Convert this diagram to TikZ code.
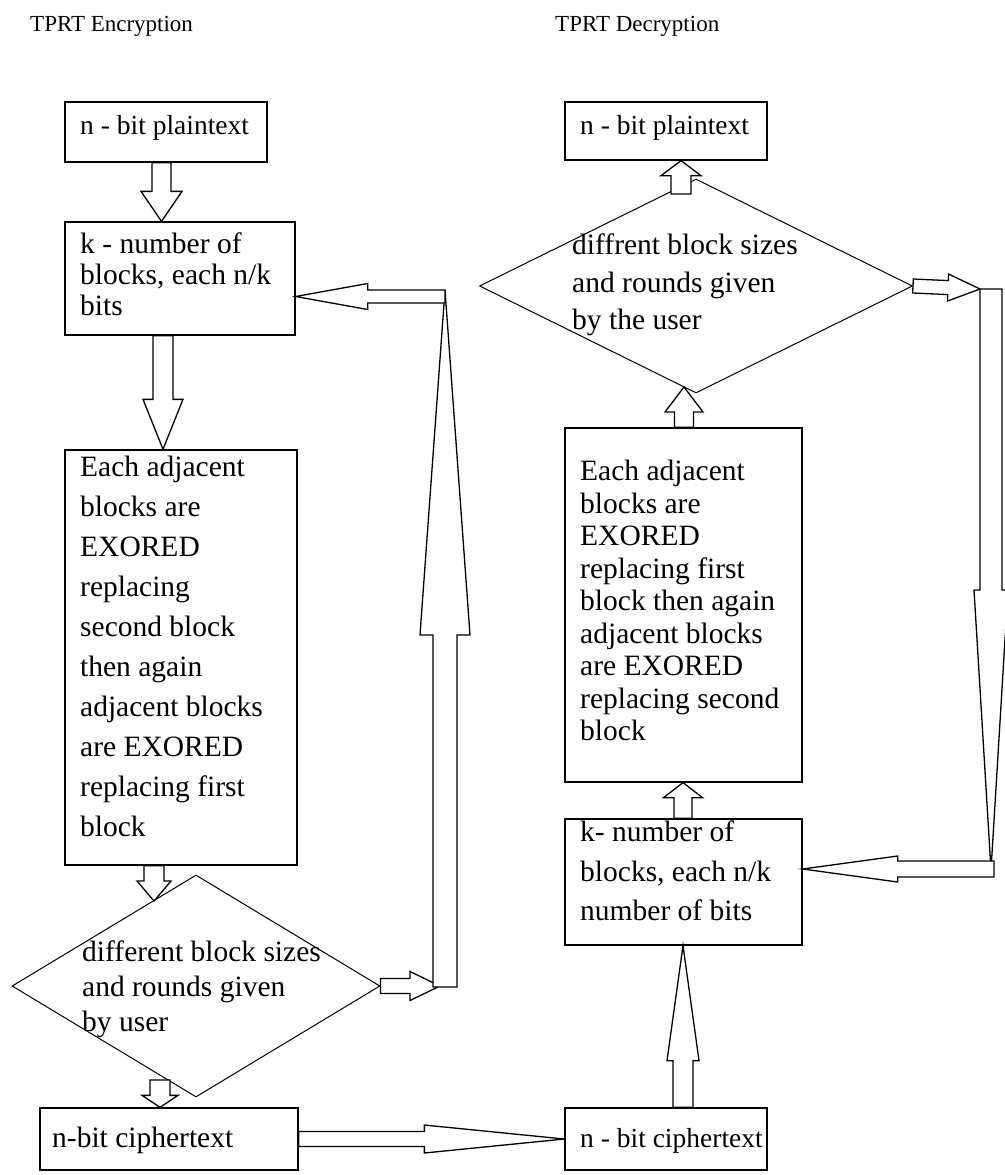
\documentclass[tikz,border=0pt]{standalone}
\usepackage{fontspec}
\setmainfont{Liberation Serif}
\usetikzlibrary{calc,shapes.geometric}

\tikzset{
  box/.style={draw, line width=1.3pt, rectangle, inner sep=0pt},
  dia/.style={draw, line width=1pt, diamond, inner sep=0pt},
  txt/.style={anchor=north west, inner sep=0pt, align=left,
    font=\fontsize{29.5}{#1}\selectfont},
  txt/.default=40,
  short/.style={anchor=north west, inner sep=0pt,
    font=\fontsize{27.5}{34}\selectfont},
  title/.style={anchor=west, inner sep=0pt, font=\fontsize{23}{28}\selectfont},
  blockarrow/.style={draw, fill=white, line width=1.3pt, line join=miter},
}

% hollow block arrow: #1 start, #2 tip, #3 half shaft width,
% #4 half head width, #5 head length
\newcommand\flowarrow[5]{%
  \coordinate (bah) at ($(#2)!#5!(#1)$);
  \draw[blockarrow] ($(#1)!#3!90:(#2)$) -- ($(bah)!#3!90:(#2)$)
    -- ($(bah)!#4!90:(#2)$) -- (#2) -- ($(bah)!#4!-90:(#2)$)
    -- ($(bah)!#3!-90:(#2)$) -- ($(#1)!#3!-90:(#2)$) -- cycle;}

\begin{document}
\begin{tikzpicture}[x=1pt,y=-1pt]
\useasboundingbox[fill=white] (0,0) rectangle (1004,1175);

% headings
\node[title] (t1) at (30,26) {TPRT Encryption};
\node[title] (t2) at (555,26) {TPRT Decryption};

% encryption column
\node[box, minimum width=202pt, minimum height=60pt]  (L1) at (166,132) {};
\node[box, minimum width=230pt, minimum height=113pt] (L2) at (180,278.5) {};
\node[box, minimum width=232pt, minimum height=415pt] (L3) at (181,657.5) {};
\node[dia, minimum width=368pt, minimum height=222pt] (DL) at (196,986) {};
\node[box, minimum width=258pt, minimum height=62pt]  (L4) at (169,1139) {};

% decryption column
\node[box, minimum width=202pt, minimum height=58pt]  (R1) at (666,131) {};
\node[dia, minimum width=433pt, minimum height=214pt] (DR) at (696,286) {};
\node[box, minimum width=237pt, minimum height=354pt] (R2) at (683.5,605) {};
\node[box, minimum width=237pt, minimum height=126pt] (R3) at (683.5,882) {};
\node[box, minimum width=202pt, minimum height=62pt]  (R4) at (666,1139) {};

% encryption arrows
\coordinate (a1s) at (L1.south -| 161.5,0);
\coordinate (a1t) at (L2.north -| 161.5,0);
\flowarrow{a1s}{a1t}{9.5pt}{20.5pt}{30pt}
\coordinate (a2s) at (L2.south -| 163,0);
\coordinate (a2t) at (L3.north -| 163,0);
\flowarrow{a2s}{a2t}{10pt}{20pt}{50pt}
\coordinate (a3s) at (L3.south -| 154,0);
\coordinate (a3t) at (154,901);
\flowarrow{a3s}{a3t}{10pt}{17pt}{20pt}
\coordinate (a4s) at (160,1080);
\coordinate (a4t) at (L4.north -| 160,0);
\flowarrow{a4s}{a4t}{10pt}{18pt}{12pt}
\coordinate (a5t) at (440,986);
\flowarrow{DL.east}{a5t}{7.5pt}{14.5pt}{30pt}
\coordinate (cl) at (445,987);
\coordinate (clt) at (445,290);
\flowarrow{cl}{clt}{12pt}{25pt}{345pt}
\coordinate (a7s) at (445,296.5);
\coordinate (a7t) at (L2.east |- a7s);
\flowarrow{a7s}{a7t}{6.5pt}{13pt}{72pt}

% link between the columns
\flowarrow{L4.east}{R4.west}{7.5pt}{14pt}{140pt}

% decryption arrows
\coordinate (a15s) at (R4.north -| 683,0);
\coordinate (a15t) at (R3.south -| 683,0);
\flowarrow{a15s}{a15t}{10pt}{16pt}{115pt}
\coordinate (a14s) at (R3.north -| 683,0);
\coordinate (a14t) at (R2.south -| 683,0);
\flowarrow{a14s}{a14t}{9pt}{19.5pt}{15pt}
\coordinate (a10s) at (R2.north -| 684,0);
\coordinate (a10t) at (684,387);
\flowarrow{a10s}{a10t}{9.5pt}{19pt}{25pt}
\coordinate (a9s) at (681,194);
\coordinate (a9t) at (R1.south -| 681,0);
\flowarrow{a9s}{a9t}{10pt}{20pt}{15pt}
\coordinate (a11t) at (980,289);
\flowarrow{DR.east}{a11t}{7pt}{13.5pt}{32pt}
\coordinate (cr) at (991,289);
\coordinate (crt) at (991,870);
\flowarrow{cr}{crt}{11pt}{17pt}{280pt}
\coordinate (a13s) at (994,869);
\coordinate (a13t) at (R3.east |- a13s);
\flowarrow{a13s}{a13t}{8pt}{13pt}{95pt}

% texts
\node[short] (x1) at (80,115) {n - bit plaintext};
\node[txt=31] (x2) at (80,233) {k - number of\\blocks, each n/k\\bits};
\node[txt=40] (x3) at (80,456) {Each adjacent\\blocks are\\EXORED\\replacing\\second block\\then again\\adjacent blocks\\are EXORED\\replacing first\\block};
\node[txt=35] (x4) at (82,941) {different block sizes\\and rounds given\\by user};
\node[txt] (x5) at (52,1127) {n-bit ciphertext};
\node[short] (x6) at (580,115) {n - bit plaintext};
\node[txt=37.5] (x7) at (572,234) {diffrent block sizes\\and rounds given\\by the user};
\node[txt=32.5] (x8) at (580,460) {Each adjacent\\blocks are\\EXORED\\replacing first\\block then again\\adjacent blocks\\are EXORED\\replacing second\\block};
\node[txt=39.5] (x9) at (580,821) {k- number of\\blocks, each n/k\\number of bits};
\node[short] (x10) at (580,1128) {n - bit ciphertext};
\end{tikzpicture}
\end{document}
